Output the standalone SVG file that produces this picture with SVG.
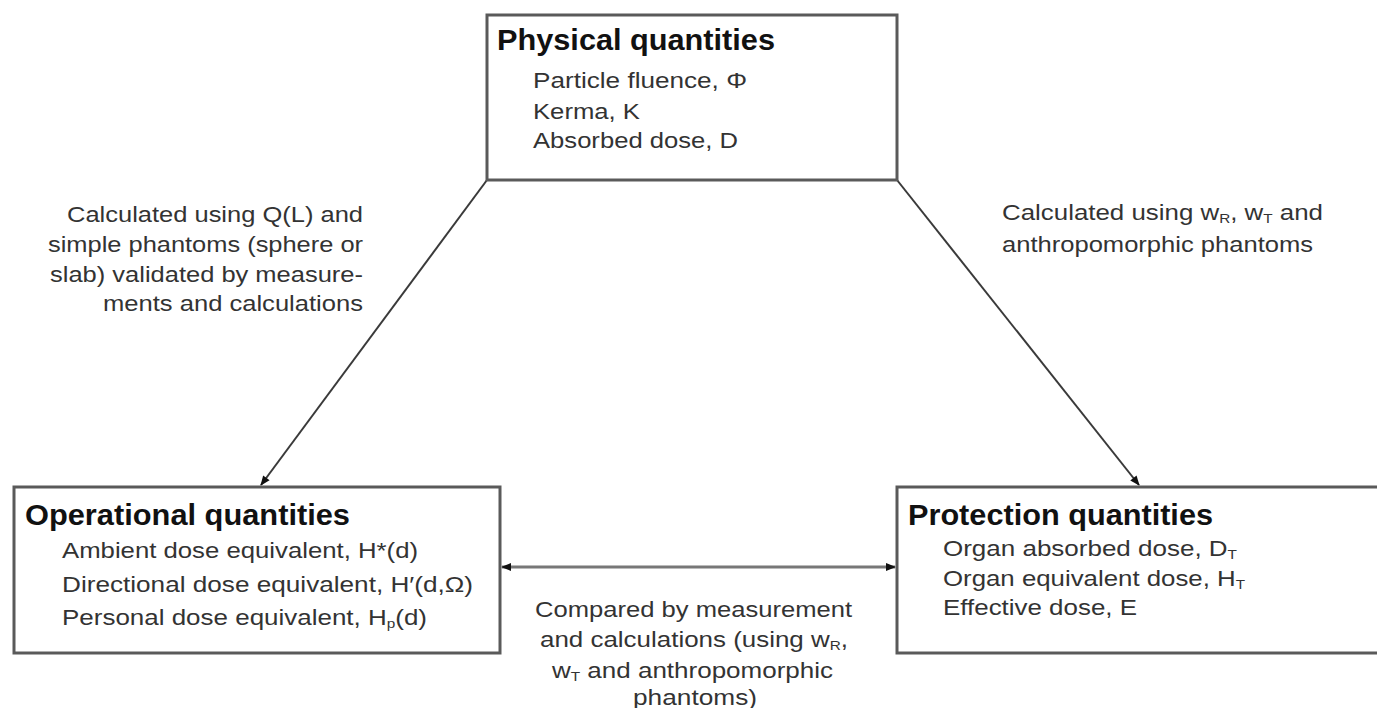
<svg xmlns="http://www.w3.org/2000/svg" width="1377" height="708" viewBox="0 0 1377 708">
<defs>
<style>
.box{fill:#fff;stroke:#5a5a5a;stroke-width:3}
text{font-family:"Liberation Sans",Arial,sans-serif}
.h{font-weight:bold;font-size:29px;fill:#111}
.t{font-size:22px;fill:#333}
.l{font-size:22px;fill:#333}
.c{stroke:#3a3a3a;stroke-width:2;fill:none}
.cw{stroke:#777;stroke-width:3;fill:none}
.s{font-size:13px}
</style>
<marker id="ah" viewBox="0 0 10 10" refX="9" refY="5" markerWidth="11" markerHeight="10" orient="auto-start-reverse" markerUnits="userSpaceOnUse">
<path d="M0,1 L10,5 L0,9 Z" fill="#111"/>
</marker>
</defs>
<rect width="1377" height="708" fill="#fff"/>
<g id="connectors">
<line class="c" x1="487" y1="180" x2="261" y2="485" marker-end="url(#ah)"/>
<line class="c" x1="897" y1="180" x2="1139" y2="485" marker-end="url(#ah)"/>
<line class="cw" x1="502" y1="567" x2="895" y2="567" marker-start="url(#ah)" marker-end="url(#ah)"/>
</g>
<g id="physical">
<rect class="box" x="487" y="15" width="410" height="165"/>
<text class="h" x="497" y="50" textLength="278" lengthAdjust="spacingAndGlyphs">Physical quantities</text>
<text class="t" x="533" y="88" textLength="214" lengthAdjust="spacingAndGlyphs">Particle fluence, Φ</text>
<text class="t" x="533" y="119" textLength="107" lengthAdjust="spacingAndGlyphs">Kerma, K</text>
<text class="t" x="533" y="148" textLength="205" lengthAdjust="spacingAndGlyphs">Absorbed dose, D</text>
</g>
<g id="operational">
<rect class="box" x="14" y="487" width="486" height="166"/>
<text class="h" x="25" y="525" textLength="325" lengthAdjust="spacingAndGlyphs">Operational quantities</text>
<text class="t" x="62" y="558" textLength="356" lengthAdjust="spacingAndGlyphs">Ambient dose equivalent, H*(d)</text>
<text class="t" x="62" y="592" textLength="411" lengthAdjust="spacingAndGlyphs">Directional dose equivalent, H′(d,Ω)</text>
<text class="t" x="62" y="625" textLength="365" lengthAdjust="spacingAndGlyphs">Personal dose equivalent, H<tspan class="s" dy="3">p</tspan><tspan dy="-3">(d)</tspan></text>
</g>
<g id="protection">
<rect class="box" x="897" y="487" width="490" height="166"/>
<text class="h" x="908" y="525" textLength="305" lengthAdjust="spacingAndGlyphs">Protection quantities</text>
<text class="t" x="943" y="556" textLength="294" lengthAdjust="spacingAndGlyphs">Organ absorbed dose, D<tspan class="s" dy="3">T</tspan></text>
<text class="t" x="943" y="586" textLength="302" lengthAdjust="spacingAndGlyphs">Organ equivalent dose, H<tspan class="s" dy="3">T</tspan></text>
<text class="t" x="943" y="615" textLength="194" lengthAdjust="spacingAndGlyphs">Effective dose, E</text>
</g>
<g id="labels">
<text class="l" x="67" y="222" textLength="296" lengthAdjust="spacingAndGlyphs">Calculated using Q(L) and</text>
<text class="l" x="48" y="252" textLength="315" lengthAdjust="spacingAndGlyphs">simple phantoms (sphere or</text>
<text class="l" x="50" y="282" textLength="313" lengthAdjust="spacingAndGlyphs">slab) validated by measure-</text>
<text class="l" x="103" y="311" textLength="260" lengthAdjust="spacingAndGlyphs">ments and calculations</text>
<text class="l" x="1002" y="220" textLength="321" lengthAdjust="spacingAndGlyphs">Calculated using w<tspan class="s" dy="3">R</tspan><tspan dy="-3">, w</tspan><tspan class="s" dy="3">T</tspan><tspan dy="-3"> and</tspan></text>
<text class="l" x="1002" y="252" textLength="311" lengthAdjust="spacingAndGlyphs">anthropomorphic phantoms</text>
<text class="l" x="535" y="617" textLength="317" lengthAdjust="spacingAndGlyphs">Compared by measurement</text>
<text class="l" x="540" y="647" textLength="308" lengthAdjust="spacingAndGlyphs">and calculations (using w<tspan class="s" dy="3">R</tspan><tspan dy="-3">,</tspan></text>
<text class="l" x="552" y="678" textLength="281" lengthAdjust="spacingAndGlyphs">w<tspan class="s" dy="3">T</tspan><tspan dy="-3"> and anthropomorphic</tspan></text>
<text class="l" x="633" y="705" textLength="124" lengthAdjust="spacingAndGlyphs">phantoms)</text>
</g>
</svg>
